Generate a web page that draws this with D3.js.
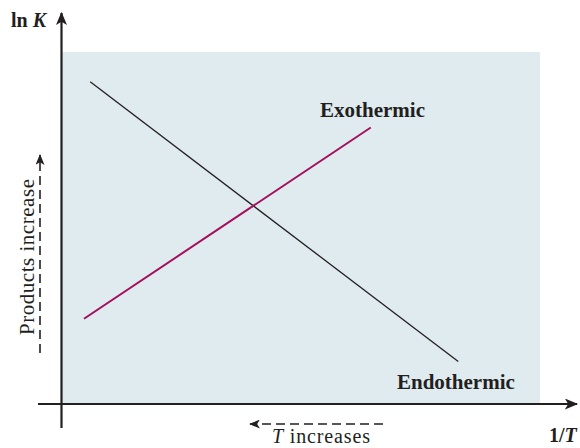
<!DOCTYPE html>
<html><head><meta charset="utf-8">
<script src="https://cdn.jsdelivr.net/npm/d3@7"></script>
<style>body{margin:0;background:#fff}svg{display:block}text{font-family:"Liberation Serif","Times New Roman",serif;fill:#231f20}</style>
</head><body><svg id="c" width="580" height="448"></svg>
<script>
// Data (abstract units: 1/T on x, ln K on y)
const seriesNames = ["Endothermic", "Exothermic"];
const endoX = [0.59, 8.29];
const endoY = [9.15, 1.18];
const exoX = [0.46, 6.46];
const exoY = [2.40, 7.85];
const xDomain = [0, 10];
const yDomain = [0, 10];

const svg = d3.select("#c");
const x = d3.scaleLinear().domain(xDomain).range([62, 540]);
const y = d3.scaleLinear().domain(yDomain).range([403, 52]);
const ink = "#231f20";

// shaded region
svg.append("rect").attr("x", x(0)).attr("y", y(10))
  .attr("width", x(10) - x(0)).attr("height", y(0) - y(10))
  .attr("fill", "#e0ebf0");

const defs = svg.append("defs");
function marker(id, w, h) {
  defs.append("marker").attr("id", id).attr("viewBox", "0 0 12 10")
    .attr("refX", 11).attr("refY", 5).attr("markerUnits", "userSpaceOnUse")
    .attr("markerWidth", w).attr("markerHeight", h).attr("orient", "auto")
    .append("path").attr("d", "M0,0 L12,5 L0,10 L3,5 Z").attr("fill", ink);
}
marker("ah", 14, 11);
marker("ahs", 12, 9);

// axes
const ax0 = x(0) - 0.5, ay0 = y(0) + 1;
svg.append("line").attr("x1", ax0).attr("y1", 428).attr("x2", ax0).attr("y2", 13)
  .attr("stroke", ink).attr("stroke-width", 2.2).attr("marker-end", "url(#ah)");
svg.append("line").attr("x1", 38).attr("y1", ay0).attr("x2", 577).attr("y2", ay0)
  .attr("stroke", ink).attr("stroke-width", 2.2).attr("marker-end", "url(#ah)");

// lines
const line = d3.line().x(d => x(d[0])).y(d => y(d[1]));
svg.append("path").datum(d3.zip(endoX, endoY)).attr("d", line)
  .attr("fill", "none").attr("stroke", "#231f20").attr("stroke-width", 1.3);
svg.append("path").datum(d3.zip(exoX, exoY)).attr("d", line)
  .attr("fill", "none").attr("stroke", "#a3105c").attr("stroke-width", 2);

// line labels
svg.append("text").attr("x", 320).attr("y", 117).attr("font-size", 21)
  .attr("font-weight", "bold").text(seriesNames[1]);
svg.append("text").attr("x", 397).attr("y", 389).attr("font-size", 21)
  .attr("font-weight", "bold").text(seriesNames[0]);

// axis titles
const lnK = svg.append("text").attr("x", 11).attr("y", 27).attr("font-size", 20).attr("font-weight", "bold");
lnK.append("tspan").text("ln ");
lnK.append("tspan").attr("font-style", "italic").text("K");
const invT = svg.append("text").attr("x", 549).attr("y", 442).attr("font-size", 20).attr("font-weight", "bold");
invT.append("tspan").text("1/");
invT.append("tspan").attr("font-style", "italic").text("T");

// dashed arrows + captions
svg.append("line").attr("x1", 383).attr("y1", 424).attr("x2", 250).attr("y2", 424)
  .attr("stroke", ink).attr("stroke-width", 1.6).attr("stroke-dasharray", "9,5")
  .attr("marker-end", "url(#ahs)");
const ti = svg.append("text").attr("x", 272).attr("y", 443).attr("font-size", 20).attr("textLength", 98);
ti.append("tspan").attr("font-style", "italic").text("T");
ti.append("tspan").text(" increases");

svg.append("line").attr("x1", 40).attr("y1", 353).attr("x2", 40).attr("y2", 155)
  .attr("stroke", ink).attr("stroke-width", 1.6).attr("stroke-dasharray", "9,5")
  .attr("marker-end", "url(#ahs)");
svg.append("text").attr("transform", "translate(34,335) rotate(-90)")
  .attr("font-size", 21).attr("textLength", 156).text("Products increase");
</script></body></html>
